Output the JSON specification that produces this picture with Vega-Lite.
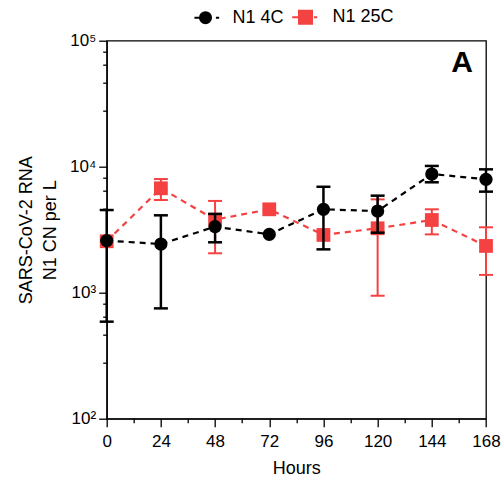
{
  "$schema": "https://vega.github.io/schema/vega-lite/v6.json",
  "width": 379.3,
  "height": 378,
  "autosize": {"type": "none"},
  "padding": {"left": 106.7, "top": 40.7, "right": 18, "bottom": 63.3},
  "background": "white",
  "config": {
    "font": "Liberation Sans",
    "view": {"stroke": "black", "strokeWidth": 1.3},
    "axis": {
      "grid": false,
      "domainColor": "black",
      "domainWidth": 1.3,
      "tickColor": "black",
      "tickWidth": 1.3,
      "labelColor": "black",
      "titleColor": "black",
      "labelFont": "Liberation Sans",
      "titleFont": "Liberation Sans",
      "titleFontWeight": "normal"
    },
    "legend": {"labelFont": "Liberation Sans"}
  },
  "data": {
    "values": [
      {"series": "N1 25C", "hours": 0, "value": 2560, "lo": null, "hi": null},
      {"series": "N1 25C", "hours": 24, "value": 6740, "lo": 5440, "hi": 7980},
      {"series": "N1 25C", "hours": 48, "value": 3800, "lo": 2055, "hi": 5350},
      {"series": "N1 25C", "hours": 72, "value": 4590, "lo": null, "hi": null},
      {"series": "N1 25C", "hours": 96, "value": 2873, "lo": null, "hi": null},
      {"series": "N1 25C", "hours": 120, "value": 3245, "lo": 946, "hi": 5505},
      {"series": "N1 25C", "hours": 144, "value": 3776, "lo": 2904, "hi": 4590},
      {"series": "N1 25C", "hours": 168, "value": 2350, "lo": 1384, "hi": 3305},
      {"series": "N1 4C", "hours": 0, "value": 2590, "lo": 589, "hi": 4530},
      {"series": "N1 4C", "hours": 24, "value": 2433, "lo": 751, "hi": 4113},
      {"series": "N1 4C", "hours": 48, "value": 3342, "lo": 2512, "hi": 4218},
      {"series": "N1 4C", "hours": 72, "value": 2904, "lo": null, "hi": null},
      {"series": "N1 4C", "hours": 96, "value": 4590, "lo": 2208, "hi": 6930},
      {"series": "N1 4C", "hours": 120, "value": 4447, "lo": 2994, "hi": 5890},
      {"series": "N1 4C", "hours": 144, "value": 8750, "lo": 7520, "hi": 10140},
      {"series": "N1 4C", "hours": 168, "value": 7940, "lo": 6340, "hi": 9530}
    ]
  },
  "encoding": {
    "x": {
      "field": "hours",
      "type": "quantitative",
      "scale": {"domain": [0, 168], "nice": false, "zero": false},
      "axis": {
        "title": "Hours",
        "titleFontSize": 18,
        "titlePadding": 10,
        "values": [0, 12, 24, 36, 48, 60, 72, 84, 96, 108, 120, 132, 144, 156, 168],
        "labelExpr": "datum.value % 24 == 0 ? datum.label : ''",
        "labelFontSize": 17,
        "labelPadding": 7,
        "labelFlush": false,
        "labelOverlap": false,
        "tickSize": {"condition": {"test": "datum.value % 24 == 0", "value": 8}, "value": 4}
      }
    },
    "y": {
      "field": "value",
      "type": "quantitative",
      "scale": {"type": "log", "domain": [100, 100000], "nice": false},
      "axis": {
        "title": ["SARS-CoV-2 RNA", "N1 CN per L"],
        "titleFontSize": 18,
        "titleLineHeight": 24,
        "titlePadding": 10,
        "values": [100, 280, 460, 640, 820, 1000, 2800, 4600, 6400, 8200, 10000, 28000, 46000, 64000, 82000, 100000],
        "labelExpr": "datum.value == 100 ? '10²' : datum.value == 1000 ? '10³' : datum.value == 10000 ? '10⁴' : datum.value == 100000 ? '10⁵' : ''",
        "labelFontSize": 17,
        "labelPadding": 3,
        "labelFlush": false,
        "labelOverlap": false,
        "tickSize": {"condition": {"test": "datum.value == 100 || datum.value == 1000 || datum.value == 10000 || datum.value == 100000", "value": 8}, "value": 4}
      }
    }
  },
  "layer": [
    {
      "transform": [{"filter": "datum.series == 'N1 25C'"}],
      "mark": {"type": "line", "color": "#f44242", "strokeWidth": 2.2, "strokeDash": [6, 5]},
      "encoding": {}
    },
    {
      "transform": [{"filter": "datum.series == 'N1 4C'"}],
      "mark": {"type": "line", "color": "black", "strokeWidth": 2.2, "strokeDash": [6, 5]},
      "encoding": {}
    },
    {
      "transform": [{"filter": "datum.series == 'N1 25C' && datum.lo != null"}],
      "mark": {"type": "rule", "color": "#f44242", "strokeWidth": 2, "opacity": 1},
      "encoding": {"y": {"field": "lo", "type": "quantitative"}, "y2": {"field": "hi"}}
    },
    {
      "transform": [{"filter": "datum.series == 'N1 25C' && datum.lo != null"}],
      "mark": {"type": "tick", "orient": "horizontal", "color": "#f44242", "thickness": 2, "size": 14, "opacity": 1},
      "encoding": {"y": {"field": "lo", "type": "quantitative"}}
    },
    {
      "transform": [{"filter": "datum.series == 'N1 25C' && datum.lo != null"}],
      "mark": {"type": "tick", "orient": "horizontal", "color": "#f44242", "thickness": 2, "size": 14, "opacity": 1},
      "encoding": {"y": {"field": "hi", "type": "quantitative"}}
    },
    {
      "transform": [{"filter": "datum.series == 'N1 25C'"}],
      "mark": {"type": "point", "shape": "square", "filled": true, "color": "#f44242", "opacity": 1, "size": 190}
    },
    {
      "transform": [{"filter": "datum.series == 'N1 4C' && datum.lo != null"}],
      "mark": {"type": "rule", "color": "black", "strokeWidth": 2.5, "opacity": 1},
      "encoding": {"y": {"field": "lo", "type": "quantitative"}, "y2": {"field": "hi"}}
    },
    {
      "transform": [{"filter": "datum.series == 'N1 4C' && datum.lo != null"}],
      "mark": {"type": "tick", "orient": "horizontal", "color": "black", "thickness": 2.5, "size": 14, "opacity": 1},
      "encoding": {"y": {"field": "lo", "type": "quantitative"}}
    },
    {
      "transform": [{"filter": "datum.series == 'N1 4C' && datum.lo != null"}],
      "mark": {"type": "tick", "orient": "horizontal", "color": "black", "thickness": 2.5, "size": 14, "opacity": 1},
      "encoding": {"y": {"field": "hi", "type": "quantitative"}}
    },
    {
      "transform": [{"filter": "datum.series == 'N1 4C'"}],
      "mark": {"type": "point", "shape": "circle", "filled": true, "color": "black", "opacity": 1, "size": 175}
    },
    {
      "transform": [{"filter": "datum.hours < 0"}],
      "mark": {"type": "point", "filled": true, "strokeWidth": 2, "opacity": 1, "fillOpacity": 1, "strokeOpacity": 1},
      "encoding": {
        "fill": {
          "field": "series", "type": "nominal",
          "scale": {"domain": ["N1 4C", "N1 25C"], "range": ["black", "#f44242"]},
          "legend": {
            "title": null,
            "orient": "none",
            "direction": "horizontal",
            "legendX": 89.8,
            "legendY": -32.7,
            "padding": 0,
            "labelFontSize": 18,
            "labelColor": "black",
            "labelOffset": 18,
            "columnPadding": 3,
            "symbolSize": 169,
            "symbolStrokeWidth": 2,
            "symbolOpacity": 1
          }
        },
        "stroke": {
          "field": "series", "type": "nominal",
          "scale": {"domain": ["N1 4C", "N1 25C"], "range": ["black", "#f44242"]}
        },
        "shape": {
          "field": "series", "type": "nominal",
          "scale": {
            "domain": ["N1 4C", "N1 25C"],
            "range": [
              "M-1.7,0L-0.8,0M1.6,0L2.1,0M-0.85,0A0.85,0.85,0,1,0,0.85,0A0.85,0.85,0,1,0,-0.85,0Z",
              "M-2.05,0L-1,0M1.3,0L1.8,0M-1,-1L1,-1L1,1L-1,1Z"
            ]
          }
        }
      }
    },
    {
      "data": {"values": [{"label": "A", "hours": 157.4, "value": 66500}]},
      "mark": {"type": "text", "fontSize": 30, "fontWeight": "bold", "align": "center", "baseline": "middle", "color": "black"},
      "encoding": {"text": {"field": "label"}}
    }
  ]
}
